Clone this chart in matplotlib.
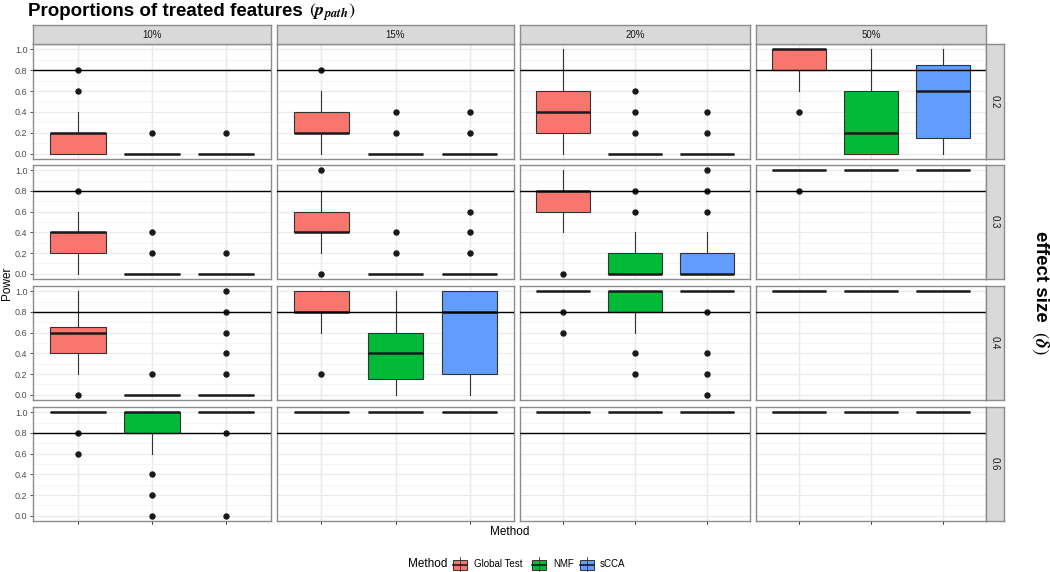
import matplotlib
matplotlib.use('Agg')
import matplotlib.pyplot as plt
from matplotlib.patches import Rectangle
from matplotlib.lines import Line2D

plt.rcParams['font.family'] = ['Liberation Sans', 'DejaVu Sans']
plt.rcParams['mathtext.fontset'] = 'stix'

# ---------------- data ----------------
methods = ['Global Test', 'NMF', 'sCCA']
proportions = ['10%', '15%', '20%', '50%']
effect_sizes = ['0.2', '0.3', '0.4', '0.6']
y_ticks = [0.0, 0.2, 0.4, 0.6, 0.8, 1.0]
y_tick_labels = ['0.0', '0.2', '0.4', '0.6', '0.8', '1.0']
power_threshold = 0.8

# indexing: [effect size row][proportion column][method]
q1 = [
    [[0.0, 0.0, 0.0], [0.2, 0.0, 0.0], [0.2, 0.0, 0.0], [0.8, 0.0, 0.15]],
    [[0.2, 0.0, 0.0], [0.4, 0.0, 0.0], [0.6, 0.0, 0.0], [1.0, 1.0, 1.0]],
    [[0.4, 0.0, 0.0], [0.8, 0.15, 0.2], [1.0, 0.8, 1.0], [1.0, 1.0, 1.0]],
    [[1.0, 0.8, 1.0], [1.0, 1.0, 1.0], [1.0, 1.0, 1.0], [1.0, 1.0, 1.0]],
]
median = [
    [[0.2, 0.0, 0.0], [0.2, 0.0, 0.0], [0.4, 0.0, 0.0], [1.0, 0.2, 0.6]],
    [[0.4, 0.0, 0.0], [0.4, 0.0, 0.0], [0.8, 0.0, 0.0], [1.0, 1.0, 1.0]],
    [[0.6, 0.0, 0.0], [0.8, 0.4, 0.8], [1.0, 1.0, 1.0], [1.0, 1.0, 1.0]],
    [[1.0, 1.0, 1.0], [1.0, 1.0, 1.0], [1.0, 1.0, 1.0], [1.0, 1.0, 1.0]],
]
q3 = [
    [[0.2, 0.0, 0.0], [0.4, 0.0, 0.0], [0.6, 0.0, 0.0], [1.0, 0.6, 0.85]],
    [[0.4, 0.0, 0.0], [0.6, 0.0, 0.0], [0.8, 0.2, 0.2], [1.0, 1.0, 1.0]],
    [[0.65, 0.0, 0.0], [1.0, 0.6, 1.0], [1.0, 1.0, 1.0], [1.0, 1.0, 1.0]],
    [[1.0, 1.0, 1.0], [1.0, 1.0, 1.0], [1.0, 1.0, 1.0], [1.0, 1.0, 1.0]],
]
whisker_lo = [
    [[0.0, 0.0, 0.0], [0.0, 0.0, 0.0], [0.0, 0.0, 0.0], [0.6, 0.0, 0.0]],
    [[0.0, 0.0, 0.0], [0.2, 0.0, 0.0], [0.4, 0.0, 0.0], [1.0, 1.0, 1.0]],
    [[0.2, 0.0, 0.0], [0.6, 0.0, 0.0], [1.0, 0.6, 1.0], [1.0, 1.0, 1.0]],
    [[1.0, 0.6, 1.0], [1.0, 1.0, 1.0], [1.0, 1.0, 1.0], [1.0, 1.0, 1.0]],
]
whisker_hi = [
    [[0.4, 0.0, 0.0], [0.6, 0.0, 0.0], [1.0, 0.0, 0.0], [1.0, 1.0, 1.0]],
    [[0.6, 0.0, 0.0], [0.8, 0.0, 0.0], [1.0, 0.4, 0.4], [1.0, 1.0, 1.0]],
    [[1.0, 0.0, 0.0], [1.0, 1.0, 1.0], [1.0, 1.0, 1.0], [1.0, 1.0, 1.0]],
    [[1.0, 1.0, 1.0], [1.0, 1.0, 1.0], [1.0, 1.0, 1.0], [1.0, 1.0, 1.0]],
]
outliers = [
    [[[0.6, 0.8], [0.2], [0.2]], [[0.8], [0.2, 0.4], [0.2, 0.4]],
     [[], [0.2, 0.4, 0.6], [0.2, 0.4]], [[0.4], [], []]],
    [[[0.8], [0.2, 0.4], [0.2]], [[0.0, 1.0], [0.2, 0.4], [0.2, 0.4, 0.6]],
     [[0.0], [0.6, 0.8], [0.6, 0.8, 1.0]], [[0.8], [], []]],
    [[[0.0], [0.2], [0.2, 0.4, 0.6, 0.8, 1.0]], [[0.2], [], []],
     [[0.6, 0.8], [0.2, 0.4], [0.0, 0.2, 0.4, 0.8]], [[], [], []]],
    [[[0.6, 0.8], [0.0, 0.2, 0.4], [0.0, 0.8]], [[], [], []],
     [[], [], []], [[], [], []]],
]

# ---------------- style ----------------
colors = ['#F8766D', '#00BA38', '#619CFF']
W, H = 1050, 572
col_left = [33, 277, 520, 756]
col_right = [271, 514, 750, 986]
row_top = [44, 165, 286, 407]
row_bot = [159, 279, 400, 521]
strip_top, strip_bot = 25, 44
rstrip_left, rstrip_right = 986, 1004
border_col = '#8C8C8C'
strip_fill = '#D9D9D9'


def px_axes(fig, x0, y0, x1, y1):
    return fig.add_axes([x0 / W, 1 - y1 / H, (x1 - x0) / W, (y1 - y0) / H])


fig = plt.figure(figsize=(W / 100, H / 100), dpi=100)

for r in range(4):
    for c in range(4):
        ax = px_axes(fig, col_left[c], row_top[r], col_right[c], row_bot[r])
        ax.set_xlim(0.4, 3.6)
        ax.set_ylim(-0.05, 1.05)
        ax.set_yticks(y_ticks)
        ax.set_yticks([0.1, 0.3, 0.5, 0.7, 0.9], minor=True)
        ax.set_xticks([1, 2, 3])
        ax.grid(which='major', color='#EBEBEB', lw=0.9, zorder=0)
        ax.grid(which='minor', axis='y', color='#F2F2F2', lw=0.5, zorder=0)
        ax.set_axisbelow(True)
        for s in ax.spines.values():
            s.set_color(border_col)
            s.set_linewidth(1.0)
        stats = []
        for m in range(3):
            stats.append(dict(q1=q1[r][c][m], med=median[r][c][m], q3=q3[r][c][m],
                              whislo=whisker_lo[r][c][m], whishi=whisker_hi[r][c][m],
                              fliers=outliers[r][c][m], label=methods[m]))
        bp = ax.bxp(stats, positions=[1, 2, 3], widths=0.75, patch_artist=True,
                    showcaps=False,
                    boxprops=dict(edgecolor='#333333', lw=0.8),
                    medianprops=dict(color='#1A1A1A', lw=1.8, solid_capstyle='butt'),
                    whiskerprops=dict(color='#333333', lw=0.8),
                    flierprops=dict(marker='o', markerfacecolor='#1A1A1A',
                                    markeredgecolor='#1A1A1A', markersize=3.6,
                                    linestyle='none'))
        for patch, col in zip(bp['boxes'], colors):
            patch.set_facecolor(col)
        ax.axhline(power_threshold, color='black', lw=1.0, zorder=5)
        ax.tick_params(axis='both', which='both', length=0, colors='#4D4D4D',
                       labelsize=6.5)
        ax.tick_params(axis='y', which='minor', length=0)
        if c == 0:
            ax.tick_params(axis='y', which='major', length=2.5, width=0.6,
                           color='#333333', pad=1.5)
            ax.set_yticklabels(y_tick_labels)
        else:
            ax.set_yticklabels([])
        ax.set_xticklabels([])
        if r == 3:
            ax.tick_params(axis='x', length=2.5, width=0.6, color='#333333')

# column strips
for c in range(4):
    sa = px_axes(fig, col_left[c], strip_top, col_right[c], strip_bot)
    sa.set_facecolor(strip_fill)
    sa.set_xticks([]); sa.set_yticks([])
    for s in sa.spines.values():
        s.set_color(border_col); s.set_linewidth(1.0)
    sa.text(0.5, 0.5, proportions[c], ha='center', va='center', fontsize=7,
            color='#1A1A1A', transform=sa.transAxes)

# row strips
for r in range(4):
    sa = px_axes(fig, rstrip_left, row_top[r], rstrip_right, row_bot[r])
    sa.set_facecolor(strip_fill)
    sa.set_xticks([]); sa.set_yticks([])
    for s in sa.spines.values():
        s.set_color(border_col); s.set_linewidth(1.0)
    sa.text(0.5, 0.5, effect_sizes[r], ha='center', va='center', fontsize=7,
            color='#1A1A1A', rotation=270, transform=sa.transAxes)

# overlay axes for labels and legend (pixel coordinates)
ov = fig.add_axes([0, 0, 1, 1], facecolor='none')
ov.set_xlim(0, W)
ov.set_ylim(H, 0)
ov.axis('off')

ov.text(28, 16, 'Proportions of treated features', fontsize=13.5,
        fontweight='bold', ha='left', va='baseline')
ov.text(309, 16, r'$(\mathbfit{p}_{\mathbfit{path}})$', fontsize=13,
        ha='left', va='baseline')

ov.text(1040, 276, 'effect size', fontsize=13.5, fontweight='bold',
        rotation=270, ha='center', va='center')
ov.text(1040, 343, r'$(\mathbfit{\delta})$', fontsize=14,
        rotation=270, ha='center', va='center')

ov.text(7, 283, 'Power', fontsize=8.5, rotation=90, ha='center', va='center')
ov.text(510, 532, 'Method', fontsize=8.5, ha='center', va='center')

# legend
ov.text(408, 564, 'Method', fontsize=8.5, ha='left', va='center')
key_x = [453, 532, 580]
lab_x = [474, 553, 600]
for kx, lx, col, name in zip(key_x, lab_x, colors, methods):
    ov.add_line(Line2D([kx + 7, kx + 7], [557, 571], color='#333333', lw=0.6))
    ov.add_patch(Rectangle((kx, 559.5), 14, 10, facecolor=col, edgecolor='#333333', lw=0.7))
    ov.add_line(Line2D([kx, kx + 14], [564.5, 564.5], color='#1A1A1A', lw=1.2))
    ov.text(lx, 564, name, fontsize=7, ha='left', va='center')

fig.savefig('out.png', dpi=100)
